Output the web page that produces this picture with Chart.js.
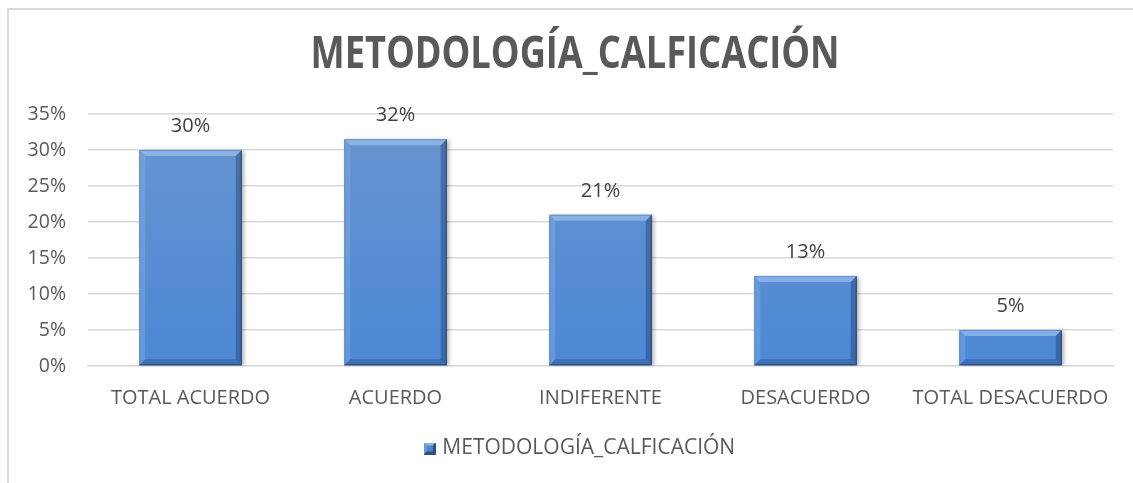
<!DOCTYPE html>
<html>
<head>
<meta charset="utf-8">
<title>METODOLOGÍA_CALFICACIÓN</title>
<script src="https://cdn.jsdelivr.net/npm/chart.js@4/dist/chart.umd.min.js"></script>
<style>
  html, body { margin: 0; padding: 0; background: #ffffff; overflow: hidden; }
  #frame {
    position: absolute; left: 7px; top: 8px; right: 0; bottom: 0;
    border-left: 2px solid #d9d9d9; border-top: 2px solid #d9d9d9;
  }
  #wrap { position: absolute; left: 0; top: 0; width: 1133px; height: 483px; }
</style>
</head>
<body>
<div id="frame"></div>
<div id="wrap"><canvas id="chart" width="1133" height="483"></canvas></div>
<script>
// Survey answers and their share of responses (percent)
const categories = ['TOTAL ACUERDO', 'ACUERDO', 'INDIFERENTE', 'DESACUERDO', 'TOTAL DESACUERDO'];
const percentValues = [30, 31.5, 21, 12.5, 5];
const seriesName = 'METODOLOGÍA_CALFICACIÓN';
const yTicks = [0, 5, 10, 15, 20, 25, 30, 35];

const FONT = "'Open Sans', 'DejaVu Sans', sans-serif";
const TEXT_GREY = '#595959';

// Bevelled square used as the legend marker
function legendMarker() {
  const s = 12, c = document.createElement('canvas');
  c.width = s; c.height = s;
  const g = c.getContext('2d');
  g.fillStyle = '#4f86cc'; g.fillRect(0, 0, s, s);
  g.fillStyle = '#8db3e2';
  g.beginPath(); g.moveTo(0, 0); g.lineTo(s, 0); g.lineTo(s - 3, 3); g.lineTo(3, 3); g.closePath(); g.fill();
  g.fillStyle = '#6f9bd4';
  g.beginPath(); g.moveTo(0, 0); g.lineTo(3, 3); g.lineTo(3, s - 3); g.lineTo(0, s); g.closePath(); g.fill();
  g.fillStyle = '#2c4f7c';
  g.beginPath(); g.moveTo(s, 0); g.lineTo(s, s); g.lineTo(s - 3, s - 3); g.lineTo(s - 3, 3); g.closePath(); g.fill();
  g.beginPath(); g.moveTo(0, s); g.lineTo(s, s); g.lineTo(s - 3, s - 3); g.lineTo(3, s - 3); g.closePath(); g.fill();
  return c;
}

// Vertical gradient filling each bar
function barGradient(context) {
  const chart = context.chart;
  const area = chart.chartArea;
  if (!area) return '#5b8fd0';
  const g = chart.ctx.createLinearGradient(0, area.top, 0, area.bottom);
  g.addColorStop(0, '#6895cf');
  g.addColorStop(1, '#4c88d6');
  return g;
}

// Condensed bold chart title
const titleText = {
  id: 'titleText',
  afterDraw(chart) {
    const ctx = chart.ctx;
    ctx.save();
    ctx.font = "bold 44px " + FONT;
    ctx.fillStyle = TEXT_GREY;
    ctx.textAlign = 'center';
    ctx.textBaseline = 'alphabetic';
    ctx.translate(575, 68);
    ctx.scale(0.823, 1);
    ctx.fillText(seriesName, 0, 0);
    ctx.restore();
  }
};

// Centre the legend row under the framed area rather than the full canvas
const legendShift = {
  id: 'legendShift',
  afterLayout(chart) {
    if (chart.legend) {
      chart.legend.left += 25;
      chart.legend.right += 25;
    }
  }
};

// Soft drop shadow under the bars
const barShadow = {
  id: 'barShadow',
  beforeDatasetDraw(chart) {
    const ctx = chart.ctx;
    ctx.save();
    ctx.shadowColor = 'rgba(0,0,0,0.3)';
    ctx.shadowBlur = 4;
    ctx.shadowOffsetX = 2;
    ctx.shadowOffsetY = 1;
  },
  afterDatasetDraw(chart) { chart.ctx.restore(); }
};

// Angled bevel edges on each bar, then the value label above it
const bevelAndLabels = {
  id: 'bevelAndLabels',
  afterDatasetsDraw(chart) {
    const ctx = chart.ctx;
    const meta = chart.getDatasetMeta(0);
    const values = chart.data.datasets[0].data;
    meta.data.forEach((bar, i) => {
      const p = bar.getProps(['x', 'y', 'base', 'width'], true);
      const l = p.x - p.width / 2, r = p.x + p.width / 2, t = p.y, b = p.base;
      const e = Math.min(6, (b - t) / 2);
      const poly = (pts, fill) => {
        ctx.beginPath();
        ctx.moveTo(pts[0][0], pts[0][1]);
        for (let k = 1; k < pts.length; k++) ctx.lineTo(pts[k][0], pts[k][1]);
        ctx.closePath();
        ctx.fillStyle = fill;
        ctx.fill();
      };
      ctx.save();
      poly([[l, t], [r, t], [r - e, t + e], [l + e, t + e]], 'rgba(165,198,240,0.6)');
      poly([[l, t], [l + e, t + e], [l + e, b - e], [l, b]], 'rgba(140,180,232,0.35)');
      poly([[r, t], [r, b], [r - e, b - e], [r - e, t + e]], 'rgba(30,60,110,0.42)');
      poly([[l, b], [r, b], [r - e, b - e], [l + e, b - e]], 'rgba(30,60,110,0.32)');
      ctx.strokeStyle = 'rgba(35,64,107,0.85)';
      ctx.lineWidth = 1;
      ctx.beginPath();
      ctx.moveTo(r - 0.5, t);
      ctx.lineTo(r - 0.5, b - 0.5);
      ctx.lineTo(l, b - 0.5);
      ctx.stroke();
      ctx.strokeStyle = 'rgba(90,130,190,0.7)';
      ctx.beginPath();
      ctx.moveTo(l + 0.5, b);
      ctx.lineTo(l + 0.5, t + 0.5);
      ctx.lineTo(r, t + 0.5);
      ctx.stroke();
      ctx.restore();

      ctx.save();
      ctx.font = '20px ' + FONT;
      ctx.fillStyle = '#404040';
      ctx.textAlign = 'center';
      ctx.textBaseline = 'middle';
      ctx.fillText(Math.round(values[i]) + '%', p.x, t - 24);
      ctx.restore();
    });
  }
};

new Chart(document.getElementById('chart'), {
  type: 'bar',
  data: {
    labels: categories,
    datasets: [{
      label: seriesName,
      data: percentValues,
      backgroundColor: barGradient,
      borderWidth: 0,
      barPercentage: 0.5,
      categoryPercentage: 1.0
    }]
  },
  options: {
    responsive: false,
    animation: false,
    layout: { padding: { left: 0, right: 20, top: 114, bottom: 14 } },
    scales: {
      x: {
        grid: { display: false, drawTicks: false },
        border: { display: true, color: '#d9d9d9', width: 1.5 },
        ticks: { color: TEXT_GREY, font: { family: FONT, size: 20 }, padding: 20, maxRotation: 0 }
      },
      y: {
        min: 0, max: 35,
        afterFit(scale) { scale.width = 88; },
        afterBuildTicks(scale) { scale.ticks = yTicks.map(v => ({ value: v })); },
        grid: { color: '#d9d9d9', lineWidth: 1.5, drawTicks: false },
        border: { display: false },
        ticks: { color: TEXT_GREY, font: { family: FONT, size: 19.5 }, padding: 22, callback: v => v + '%' }
      }
    },
    plugins: {
      title: { display: false },
      legend: {
        display: true,
        position: 'bottom',
        labels: {
          color: TEXT_GREY,
          font: { family: FONT, size: 21 },
          usePointStyle: true,
          pointStyle: legendMarker(),
          pointStyleWidth: 4,
          padding: 8
        }
      },
      tooltip: { enabled: false }
    }
  },
  plugins: [titleText, legendShift, barShadow, bevelAndLabels]
});
</script>
</body>
</html>
